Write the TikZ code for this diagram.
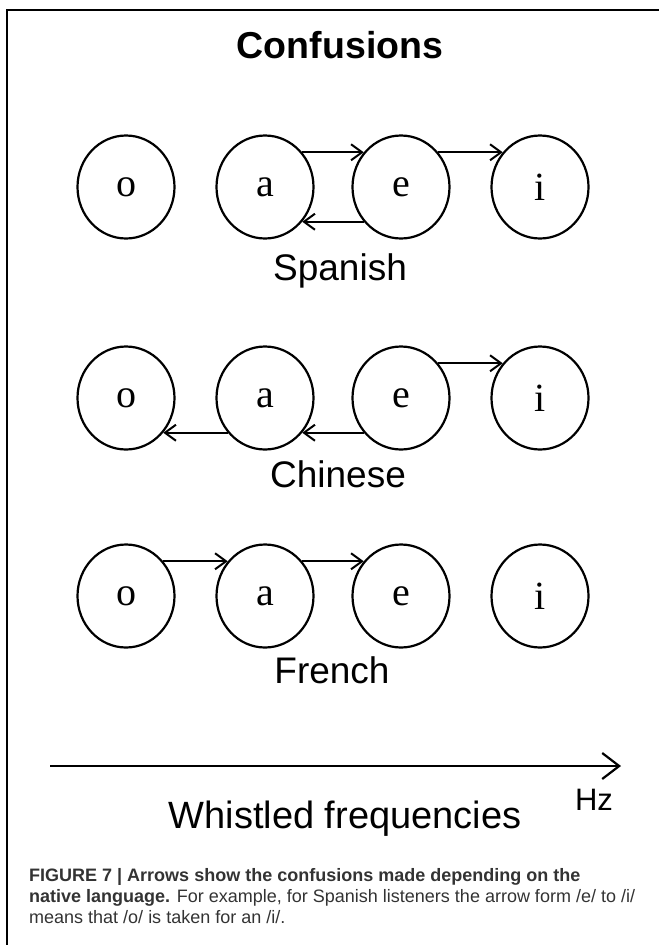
\documentclass[tikz,border=0pt]{standalone}
\usepackage{fontspec}
\setmainfont{Liberation Sans}
\newfontfamily\vowelfont{Liberation Serif}
\usetikzlibrary{shapes.geometric,arrows.meta}
\definecolor{captiongray}{HTML}{333333}
\tikzset{
  vowel/.style={draw, ellipse, line width=2.2pt, minimum width=97pt,
    minimum height=103pt, inner sep=0pt,
    font=\vowelfont\fontsize{40}{40}\selectfont},
  lang/.style={anchor=base, font=\fontsize{37}{40}\selectfont},
  conf/.style={line width=2pt, -{Straight Barb[length=11pt,width=16pt,line width=2pt]}}
}
\begin{document}
\begin{tikzpicture}[x=1pt,y=-1pt]
  \useasboundingbox (0,0) rectangle (659,945);
  \draw[line width=1.4pt] (7,945) -- (7,10) -- (659,10);
  \node[anchor=base, font=\bfseries\fontsize{37.5}{40}\selectfont] (title) at (340,58) {Confusions};
  % Spanish
  \draw
    (126,187) node[vowel] (so){o}
    (265,187) node[vowel] (sa){a}
    (401,187) node[vowel] (se){e}
    (540,187) node[vowel] (si){i}
    (340,280) node[lang] (spanish){Spanish};
  % Chinese
  \draw
    (126,398) node[vowel] (co){o}
    (265,398) node[vowel] (ca){a}
    (401,398) node[vowel] (ce){e}
    (540,398) node[vowel] (ci){i}
    (338,487) node[lang] (chinese){Chinese};
  % French
  \draw
    (126,596) node[vowel] (fo){o}
    (265,596) node[vowel] (fa){a}
    (401,596) node[vowel] (fe){e}
    (540,596) node[vowel] (fi){i}
    (332,683) node[lang] (french){French};
  \begin{scope}[conf]
    \draw (sa.43) to (se.137);
    \draw (se.223) to (sa.-43);
    \draw (se.43) to (si.137);
    \draw (ce.43) to (ci.137);
    \draw (ce.223) to (ca.-43);
    \draw (ca.223) to (co.-43);
    \draw (fo.43) to (fa.137);
    \draw (fa.43) to (fe.137);
  \end{scope}
  % frequency axis
  \coordinate (low) at (50,766);
  \coordinate (high) at (621,766);
  \draw[line width=2.2pt, -{Straight Barb[length=17pt,width=26pt,line width=2.2pt]}] (low) -- (high);
  \node[lang, font=\fontsize{31}{40}\selectfont] (hz) at (594,810) {Hz};
  \node[lang, font=\fontsize{38}{40}\selectfont] (freq) at (345,828) {Whistled frequencies};
  \node[anchor=north west, inner sep=0pt, align=left,
    text=captiongray, font=\fontsize{18}{21}\selectfont] (caption) at (29,868)
    {{\bfseries FIGURE 7 | Arrows show the confusions made depending on the}\\
    {\bfseries native language.} For example, for Spanish listeners the arrow form /e/ to /i/\\
    means that /o/ is taken for an /i/.};
\end{tikzpicture}
\end{document}
